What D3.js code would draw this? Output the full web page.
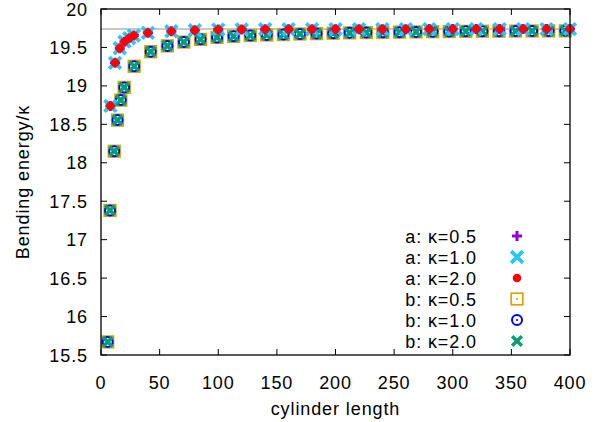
<!DOCTYPE html>
<html><head><meta charset="utf-8">
<script src="https://cdn.jsdelivr.net/npm/d3@7"></script>
<style>body{margin:0;background:#fff}svg{display:block}text{font-family:"Liberation Sans",Arial,Helvetica,sans-serif;letter-spacing:0.9px}</style>
</head><body><svg id="c" width="607" height="422"></svg>
<script>
const xTicks = [0,50,100,150,200,250,300,350,400];
const yTicks = [15.5,16,16.5,17,17.5,18,18.5,19,19.5,20];
const refValue = 19.739; // 2*pi^2 reference line
const aX = [8,12,16,20,24,28,40,60,80,100,120,140,160,180,200,220,240,260,280,300,320,340,360,380,400];
const aY = [18.74,19.30,19.49,19.575,19.62,19.655,19.69,19.71,19.725,19.732,19.735,19.736,19.737,19.737,19.738,19.738,19.738,19.738,19.739,19.739,19.739,19.739,19.739,19.739,19.739];
const bX = [5.7,7.7,11.3,14.1,16.9,19.8,28.3,42.4,56.6,70.7,84.9,99,113.1,127.3,141.4,155.6,169.7,183.8,198,212.1,226.3,240.4,254.6,268.7,282.8,297,311.1,325.3,339.4,353.6,367.7,381.8,396];
const bY = [15.67,17.38,18.15,18.555,18.815,18.98,19.255,19.445,19.52,19.57,19.605,19.63,19.645,19.655,19.662,19.668,19.675,19.68,19.685,19.69,19.693,19.696,19.699,19.702,19.705,19.707,19.709,19.711,19.712,19.713,19.714,19.715,19.716];
const seriesLabels = ["a: κ=0.5","a: κ=1.0","a: κ=2.0","b: κ=0.5","b: κ=1.0","b: κ=2.0"];
const seriesColors = ["#9400d3","#22c8ff","#ff0000","#e69f00","#0000ff","#009e73"];
const seriesShapes = ["plus","xbig","dot","square","circle","xsmall"];
const seriesData = [[aX,aY],[aX,aY],[aX,aY],[bX,bY],[bX,bY],[bX,bY]];

const svg = d3.select("#c");
const L=101,R=570,T=9,B=355;
const x = d3.scaleLinear().domain([0,400]).range([L,R]);
const y = d3.scaleLinear().domain([15.5,20]).range([B,T]);

svg.append("line").attr("x1",L).attr("x2",R).attr("y1",y(refValue)).attr("y2",y(refValue))
  .attr("stroke","#c8c8c8").attr("stroke-width",2);

function drawMark(g, shape, color){
  if(shape==="plus"){
    g.append("path").attr("d","M-5,0H5M0,-5V5").attr("stroke",color).attr("stroke-width",3).attr("fill","none");
  } else if(shape==="xbig"){
    g.append("path").attr("d","M-4.5,-4.5L4.5,4.5M-4.5,4.5L4.5,-4.5").attr("stroke",color).attr("stroke-width",3.8).attr("stroke-linecap","square").attr("fill","none");
  } else if(shape==="dot"){
    g.append("circle").attr("r",4.3).attr("fill",color);
  } else if(shape==="square"){
    g.append("rect").attr("x",-5.8).attr("y",-5.8).attr("width",11.6).attr("height",11.6).attr("stroke",color).attr("stroke-width",1.7).attr("fill","none");
    g.append("circle").attr("r",1.1).attr("fill",color);
  } else if(shape==="circle"){
    g.append("circle").attr("r",5).attr("stroke",color).attr("stroke-width",2).attr("fill","none");
    g.append("circle").attr("r",1.1).attr("fill",color);
  } else if(shape==="xsmall"){
    g.append("path").attr("d","M-3.6,-3.6L3.6,3.6M-3.6,3.6L3.6,-3.6").attr("stroke",color).attr("stroke-width",3.5).attr("stroke-linecap","square").attr("fill","none");
  }
}

const order = [3,4,5,0,1,2];
order.forEach(i=>{
  const [xs,ys]=seriesData[i];
  xs.forEach((xv,j)=>{
    const g = svg.append("g").attr("transform",`translate(${x(xv)},${y(ys[j])})`);
    drawMark(g, seriesShapes[i], seriesColors[i]);
  });
});

const tk = svg.append("g").attr("stroke","#000").attr("stroke-width",1);
xTicks.forEach(v=>{
  tk.append("line").attr("x1",x(v)).attr("x2",x(v)).attr("y1",B).attr("y2",B-6);
  tk.append("line").attr("x1",x(v)).attr("x2",x(v)).attr("y1",T).attr("y2",T+6);
});
yTicks.forEach(v=>{
  tk.append("line").attr("y1",y(v)).attr("y2",y(v)).attr("x1",L).attr("x2",L+6);
  tk.append("line").attr("y1",y(v)).attr("y2",y(v)).attr("x1",R).attr("x2",R-6);
});
svg.append("rect").attr("x",L).attr("y",T).attr("width",R-L).attr("height",B-T)
  .attr("fill","none").attr("stroke","#000").attr("stroke-width",1.3);

svg.append("g").selectAll("text").data(xTicks).join("text")
  .attr("x",d=>x(d)).attr("y",B+34).attr("text-anchor","middle").attr("font-size",18).text(d=>d);
svg.append("g").selectAll("text").data(yTicks).join("text")
  .attr("x",L-13).attr("y",d=>y(d)+6.5).attr("text-anchor","end").attr("font-size",18).text(d=>d);

svg.append("text").attr("x",(L+R)/2).attr("y",415).attr("text-anchor","middle").attr("font-size",18).text("cylinder length");
svg.append("text").attr("transform",`translate(29,${(T+B)/2}) rotate(-90)`).attr("text-anchor","middle").attr("font-size",18).text("Bending energy/κ");

seriesLabels.forEach((lab,i)=>{
  const yy = 236 + i*21;
  svg.append("text").attr("x",477).attr("y",yy+6.5).attr("text-anchor","end").attr("font-size",18).text(lab);
  const g = svg.append("g").attr("transform",`translate(517,${yy})`);
  drawMark(g, seriesShapes[i], seriesColors[i]);
});
</script></body></html>
